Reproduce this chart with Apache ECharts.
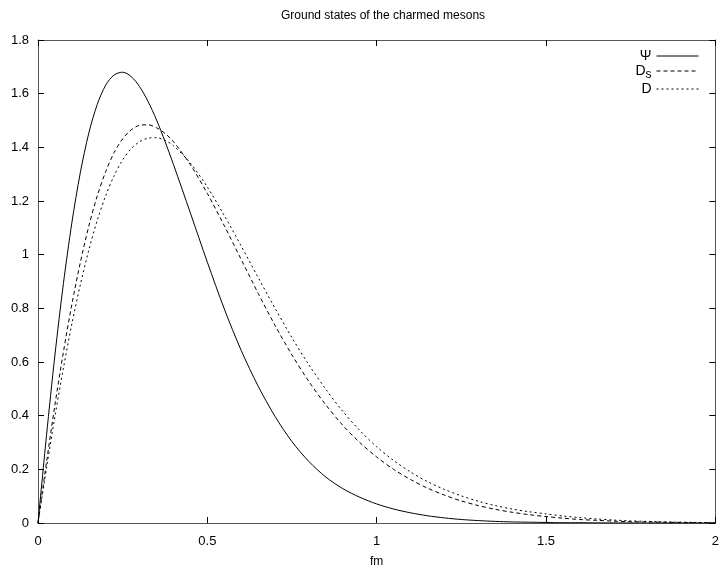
<!DOCTYPE html>
<html>
<head>
<meta charset="utf-8">
<script src="https://cdn.jsdelivr.net/npm/echarts@6/dist/echarts.min.js"></script>
<style>html,body{margin:0;padding:0;background:#fff}#c{width:722px;height:573px}</style>
</head>
<body>
<div id="c"></div>
<script>
var titleText = 'Ground states of the charmed mesons';
var xName = 'fm';
var seriesNames = ['Ψ', 'D_s', 'D'];
var xTicks = [0, 0.5, 1, 1.5, 2];
var yTicks = [0, 0.2, 0.4, 0.6, 0.8, 1, 1.2, 1.4, 1.6, 1.8];

var xs = [0, 0.025, 0.05, 0.075, 0.1, 0.125, 0.15, 0.175, 0.2, 0.225, 0.25, 0.275, 0.3, 0.325, 0.35, 0.375, 0.4,
  0.45, 0.5, 0.55, 0.6, 0.65, 0.7, 0.75, 0.8, 0.85, 0.9, 0.95, 1.0, 1.05, 1.1, 1.15, 1.2, 1.25, 1.3, 1.35, 1.4,
  1.45, 1.5, 1.55, 1.6, 1.65, 1.7, 1.75, 1.8, 1.85, 1.9, 1.95, 2.0];

var psi = [0, 0.325, 0.626, 0.892, 1.119, 1.306, 1.453, 1.560, 1.632, 1.670, 1.680, 1.664, 1.626, 1.571, 1.502, 1.422, 1.336,
  1.155, 0.972, 0.798, 0.643, 0.510, 0.397, 0.303, 0.229, 0.171, 0.128, 0.096, 0.071, 0.052, 0.038, 0.027, 0.019, 0.013, 0.009, 0.006, 0.004,
  0.003, 0.002, 0.001, 0.001, 0.0005, 0.0003, 0.0002, 0.0001, 0.0001, 0, 0, 0];

var ds = [0, 0.226, 0.440, 0.637, 0.815, 0.971, 1.106, 1.219, 1.310, 1.381, 1.432, 1.465, 1.482, 1.484, 1.473, 1.452, 1.421,
  1.335, 1.228, 1.108, 0.982, 0.856, 0.736, 0.626, 0.527, 0.440, 0.364, 0.300, 0.246, 0.200, 0.162, 0.130, 0.104, 0.082, 0.065, 0.051, 0.040,
  0.031, 0.024, 0.018, 0.013, 0.010, 0.007, 0.005, 0.004, 0.003, 0.002, 0.001, 0.001];

var dd = [0, 0.204, 0.397, 0.577, 0.742, 0.888, 1.017, 1.128, 1.220, 1.295, 1.353, 1.395, 1.421, 1.434, 1.436, 1.426, 1.406,
  1.341, 1.252, 1.146, 1.032, 0.915, 0.800, 0.690, 0.589, 0.498, 0.416, 0.345, 0.284, 0.233, 0.190, 0.154, 0.125, 0.101, 0.081, 0.065, 0.052,
  0.042, 0.034, 0.026, 0.020, 0.015, 0.011, 0.008, 0.006, 0.004, 0.003, 0.002, 0.001];

function zip(a, b) { return a.map(function (x, i) { return [x, b[i]]; }); }
var FONT = '"Liberation Sans", Arial, sans-serif';
var axisCol = '#555';

function mkX(pos, show) {
  return {
    type: 'value', position: pos, min: 0, max: 2, interval: 0.5,
    name: show ? xName : '', nameLocation: 'middle', nameGap: 33,
    nameTextStyle: { color: '#000', fontFamily: FONT, fontSize: 12 },
    axisLine: { show: true, onZero: false, lineStyle: { color: axisCol, width: 1 } },
    axisTick: { show: true, inside: true, length: 6, lineStyle: { color: '#000' } },
    axisLabel: { show: show, margin: 12, color: '#000', fontFamily: FONT, fontSize: 13,
      formatter: function (v) { return String(v); } },
    splitLine: { show: false }
  };
}
function mkY(pos, show) {
  return {
    type: 'value', position: pos, min: 0, max: 1.8, interval: 0.2,
    axisLine: { show: true, onZero: false, lineStyle: { color: axisCol, width: 1 } },
    axisTick: { show: true, inside: true, length: 6, lineStyle: { color: '#000' } },
    axisLabel: { show: show, margin: 9, color: '#000', fontFamily: FONT, fontSize: 13,
      formatter: function (v) { return String(Math.round(v * 10) / 10); } },
    splitLine: { show: false }
  };
}

var chart = echarts.init(document.getElementById('c'), null, { renderer: 'canvas' });
chart.setOption({
  animation: false,
  backgroundColor: '#fff',
  title: {
    text: titleText, left: 378, top: 5, textAlign: 'center',
    textStyle: { color: '#000', fontFamily: FONT, fontSize: 12, fontWeight: 'normal' }
  },
  grid: { left: 38, right: 4, top: 40, bottom: 48 },
  legend: {
    orient: 'vertical', right: 18, top: 44, align: 'right', itemGap: 1,
    itemWidth: 42, itemHeight: 13,
    data: seriesNames,
    itemStyle: { opacity: 0 },
    lineStyle: { width: 1, color: '#000' },
    formatter: function (n) { return n === 'D_s' ? 'D{sub|s}' : n; },
    textStyle: { color: '#000', fontFamily: FONT, fontSize: 14,
      rich: { sub: { fontFamily: FONT, fontSize: 12, verticalAlign: 'bottom', padding: [8, 0, 0, 0] } } }
  },
  xAxis: [mkX('bottom', true), mkX('top', false)],
  yAxis: [mkY('left', true), mkY('right', false)],
  series: [
    { name: seriesNames[0], type: 'line', data: zip(xs, psi), showSymbol: false, symbol: 'none', smooth: 0.3,
      lineStyle: { color: '#000', width: 1, type: 'solid' }, itemStyle: { color: '#000' } },
    { name: seriesNames[1], type: 'line', data: zip(xs, ds), showSymbol: false, symbol: 'none', smooth: 0.3,
      lineStyle: { color: '#000', width: 1, type: [4, 3] }, itemStyle: { color: '#000' } },
    { name: seriesNames[2], type: 'line', data: zip(xs, dd), showSymbol: false, symbol: 'none', smooth: 0.3,
      lineStyle: { color: '#000', width: 1, type: [2, 3] }, itemStyle: { color: '#000' } }
  ]
});
</script>
</body>
</html>
